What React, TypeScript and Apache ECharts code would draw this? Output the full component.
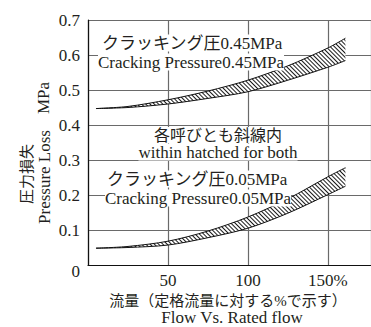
import React, { useEffect, useRef } from "react";
import * as echarts from "echarts";

const flow = [5, 25, 50, 75, 100, 125, 150, 161];
const hiLow = [0.447, 0.45, 0.46, 0.476, 0.495, 0.528, 0.565, 0.584];
const hiHigh = [0.447, 0.453, 0.472, 0.497, 0.528, 0.569, 0.62, 0.648];
const loLow = [0.048, 0.05, 0.057, 0.078, 0.105, 0.148, 0.201, 0.225];
const loHigh = [0.048, 0.053, 0.068, 0.097, 0.137, 0.189, 0.252, 0.278];

const xTickSuffix: Record<number, string> = { 50: "50", 100: "100", 150: "150%" };

const SERIF = '"Liberation Serif", "Noto Sans CJK JP", serif';
const INK = "#231f20";

export default function App() {
  const ref = useRef<HTMLDivElement>(null);
  useEffect(() => {
    if (!ref.current) return;
    const chart = echarts.init(ref.current, undefined, { renderer: "svg" });
    const hatch = {
      symbol: "rect",
      symbolSize: 1,
      dashArrayX: [1, 0],
      dashArrayY: [1, 2],
      rotation: Math.PI / 4,
      color: "#1a1a1a",
      backgroundColor: "#fff",
    };
    // data stored as [value, flow] so that the first (stacked) dimension is y
    const band = (low: number[], high: number[], stack: string) => [
      {
        type: "line",
        stack,
        dimensions: ["p", "f"],
        encode: { x: 1, y: 0 },
        data: flow.map((f, i) => [low[i], f]),
        smooth: 0.3,
        showSymbol: false,
        lineStyle: { color: "#111", width: 1 },
        itemStyle: { color: "#111" },
        z: 3,
      },
      {
        type: "line",
        stack,
        dimensions: ["p", "f"],
        encode: { x: 1, y: 0 },
        data: flow.map((f, i) => [high[i] - low[i], f]),
        smooth: 0.3,
        showSymbol: false,
        lineStyle: { color: "#111", width: 1 },
        itemStyle: { color: "#111", decal: hatch },
        areaStyle: { color: "#fff", opacity: 1 },
        z: 3,
      },
    ];
    const txt = (text: string, x: number, y: number, size: number, align = "left", bg = true, rotation = 0) => ({
      type: "text",
      x,
      y,
      rotation,
      z: 10,
      style: {
        text,
        align,
        verticalAlign: "middle",
        font: `${size}px ${SERIF}`,
        fill: INK,
        backgroundColor: bg ? "#fff" : undefined,
      },
    });
    chart.setOption({
      animation: false,
      grid: { left: 88, top: 20, width: 290, height: 245 },
      xAxis: {
        type: "value",
        min: 0,
        max: 177,
        interval: 50,
        axisLine: { show: true, lineStyle: { color: "#111", width: 1.2 } },
        axisTick: { show: false },
        splitLine: { show: true, lineStyle: { color: "#6a6a6a", width: 1.2 } },
        axisLabel: {
          margin: 7,
          fontFamily: SERIF,
          fontSize: 17,
          color: INK,
          showMinLabel: false,
          showMaxLabel: false,
          formatter: (v: number) => xTickSuffix[v] ?? "",
        },
      },
      yAxis: {
        type: "value",
        min: 0,
        max: 0.7,
        interval: 0.1,
        axisLine: { show: true, lineStyle: { color: "#111", width: 1.2 } },
        axisTick: { show: false },
        splitLine: { show: true, lineStyle: { color: "#6a6a6a", width: 1.2 } },
        axisLabel: {
          margin: 8,
          fontFamily: SERIF,
          fontSize: 17,
          color: INK,
          formatter: (v: number) => (v === 0 ? "{z|0}" : v.toFixed(1)),
          rich: { z: { fontFamily: SERIF, fontSize: 17, color: INK, padding: [12, 0, 0, 0] } },
        },
      },
      series: [...band(hiLow, hiHigh, "hi"), ...band(loLow, loHigh, "lo")],
      graphic: [
        txt("クラッキング圧0.45MPa", 102, 43, 17),
        txt("Cracking Pressure0.45MPa", 98, 62, 17),
        txt("各呼びとも斜線内", 218, 135, 16, "center"),
        txt("within hatched for both", 218, 152, 17, "center"),
        txt("クラッキング圧0.05MPa", 107, 179, 17),
        txt("Cracking Pressure0.05MPa", 105, 198, 17),
        txt("流量（定格流量に対する%で示す）", 228, 301, 15, "center", false),
        txt("Flow Vs. Rated flow", 232, 317, 17, "center", false),
        txt("圧力損失", 27, 174, 15, "center", false, Math.PI / 2),
        txt("Pressure Loss", 44, 177, 17, "center", false, Math.PI / 2),
        txt("MPa", 43, 98, 17, "center", false, Math.PI / 2),
      ],
    });
    return () => chart.dispose();
  }, []);
  return (
    <div
      ref={ref}
      style={{ position: "fixed", left: 0, top: 0, width: 371, height: 327, background: "#fff" }}
    />
  );
}
